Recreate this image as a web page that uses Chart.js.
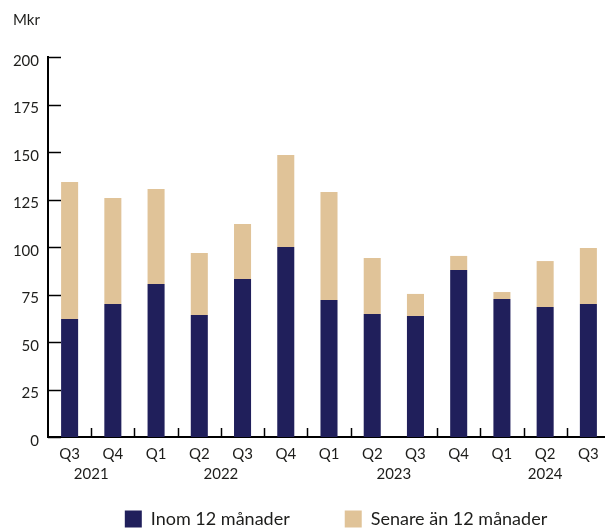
<!DOCTYPE html>
<html>
<head>
<meta charset="utf-8">
<script src="https://cdn.jsdelivr.net/npm/chart.js@4.4.1/dist/chart.umd.min.js"></script>
<style>
html,body{margin:0;padding:0;overflow:hidden;background:#ffffff;}
#wrap{position:relative;width:611px;height:528px;}
canvas{display:block;}
</style>
</head>
<body>
<div id="wrap"><canvas id="c" width="611" height="528" style="width:611px;height:528px"></canvas></div>
<script>
// ---- data ----
const quarters = ['Q3','Q4','Q1','Q2','Q3','Q4','Q1','Q2','Q3','Q4','Q1','Q2','Q3'];
const years    = ['2021','2021','2022','2022','2022','2022','2023','2023','2023','2023','2024','2024','2024'];
const within12 = [62.1, 70.0, 80.5, 64.2, 83.2, 100.0, 72.1, 64.7, 63.7, 87.9, 72.6, 68.4, 70.0];
const later12  = [72.1, 55.8, 50.0, 32.6, 28.9, 48.4, 56.8, 29.5, 11.6, 7.4, 3.7, 24.2, 29.5];
const yTicks   = [0, 25, 50, 75, 100, 125, 150, 175, 200];
const seriesNames = ['Inom 12 månader', 'Senare än 12 månader'];
const unitLabel = 'Mkr';

const NAVY = '#201f5b';
const TAN  = '#e0c398';
const TEXT = '#1d1d1b';
const FONT = 'Lato';
const LEGEND_PAD = 55;

const decorPlugin = {
  id: 'decor',
  afterLayout(chart) {
    // place legend row just below the year labels, slightly right of plot centre
    const lg = chart.legend;
    if (lg) {
      lg.top = chart.chartArea.bottom + 73 - LEGEND_PAD;
      lg.bottom = lg.top + LEGEND_PAD + 17 + 10;
      lg.left += 7; lg.right += 7;
    }
  },
  afterDraw(chart) {
    const ctx = chart.ctx;
    const x = chart.scales.x, y = chart.scales.y;
    const area = chart.chartArea;
    ctx.save();
    // inward y tick marks
    ctx.strokeStyle = '#000';
    ctx.lineWidth = 1.5;
    yTicks.forEach(v => {
      const py = Math.round(y.getPixelForValue(v)) + 0.5;
      ctx.beginPath();
      ctx.moveTo(area.left, py);
      ctx.lineTo(area.left + 13, py);
      ctx.stroke();
    });
    // inward x tick marks between categories
    for (let i = 1; i < quarters.length; i++) {
      if (i === 8) continue; // no tick shown between Q2 and Q3 2023
      const px = Math.round((x.getPixelForValue(i - 1) + x.getPixelForValue(i)) / 2) + 0.5;
      ctx.beginPath();
      ctx.moveTo(px, area.bottom);
      ctx.lineTo(px, area.bottom - 9);
      ctx.stroke();
    }
    // year labels centred under their quarters
    ctx.fillStyle = TEXT;
    ctx.font = '15px ' + FONT;
    ctx.textAlign = 'center';
    ctx.textBaseline = 'middle';
    const uniq = [...new Set(years)];
    uniq.forEach(yr => {
      const idx = years.map((v, i) => v === yr ? i : -1).filter(i => i >= 0);
      const cx = idx.reduce((s, i) => s + x.getPixelForValue(i), 0) / idx.length;
      ctx.fillText(yr, cx, area.bottom + 37);
    });
    // unit label
    ctx.textAlign = 'left';
    ctx.textBaseline = 'alphabetic';
    ctx.fillText(unitLabel, 13, 25);
    ctx.restore();
  }
};

new Chart(document.getElementById('c'), {
  type: 'bar',
  data: {
    labels: quarters,
    datasets: [
      { label: seriesNames[0], data: within12, backgroundColor: NAVY, borderWidth: 0 },
      { label: seriesNames[1], data: later12,  backgroundColor: TAN,  borderWidth: 0 }
    ]
  },
  options: {
    responsive: false,
    animation: false,
    devicePixelRatio: 1,
    layout: { padding: { top: 57, right: 1, left: 0, bottom: 0 } },
    datasets: { bar: { categoryPercentage: 1.0, barPercentage: 0.394 } },
    plugins: {
      tooltip: { enabled: false },
      title: { display: false },
      legend: {
        display: true,
        position: 'bottom',
        align: 'center',
        fullSize: false,
        maxHeight: 41,
        labels: {
          boxWidth: 17,
          boxHeight: 17,
          padding: LEGEND_PAD,
          color: TEXT,
          font: { family: FONT, size: 18 }
        }
      }
    },
    scales: {
      x: {
        stacked: true,
        offset: true,
        grid: { display: false, drawTicks: false, offset: true },
        border: { display: true, color: '#000', width: 2 },
        ticks: { color: TEXT, font: { family: FONT, size: 15 }, padding: 8, maxRotation: 0, autoSkip: false },
        afterFit(scale) { scale.height = 50; }
      },
      y: {
        stacked: true,
        min: 0,
        max: 200,
        afterBuildTicks(scale) { scale.ticks = yTicks.map(v => ({ value: v })); },
        grid: { display: false, drawTicks: false },
        border: { display: true, color: '#000', width: 2 },
        ticks: { color: TEXT, font: { family: FONT, size: 15 }, padding: 9, labelOffset: 4 },
        afterFit(scale) { scale.width = 48; }
      }
    }
  },
  plugins: [decorPlugin]
});
</script>
</body>
</html>
